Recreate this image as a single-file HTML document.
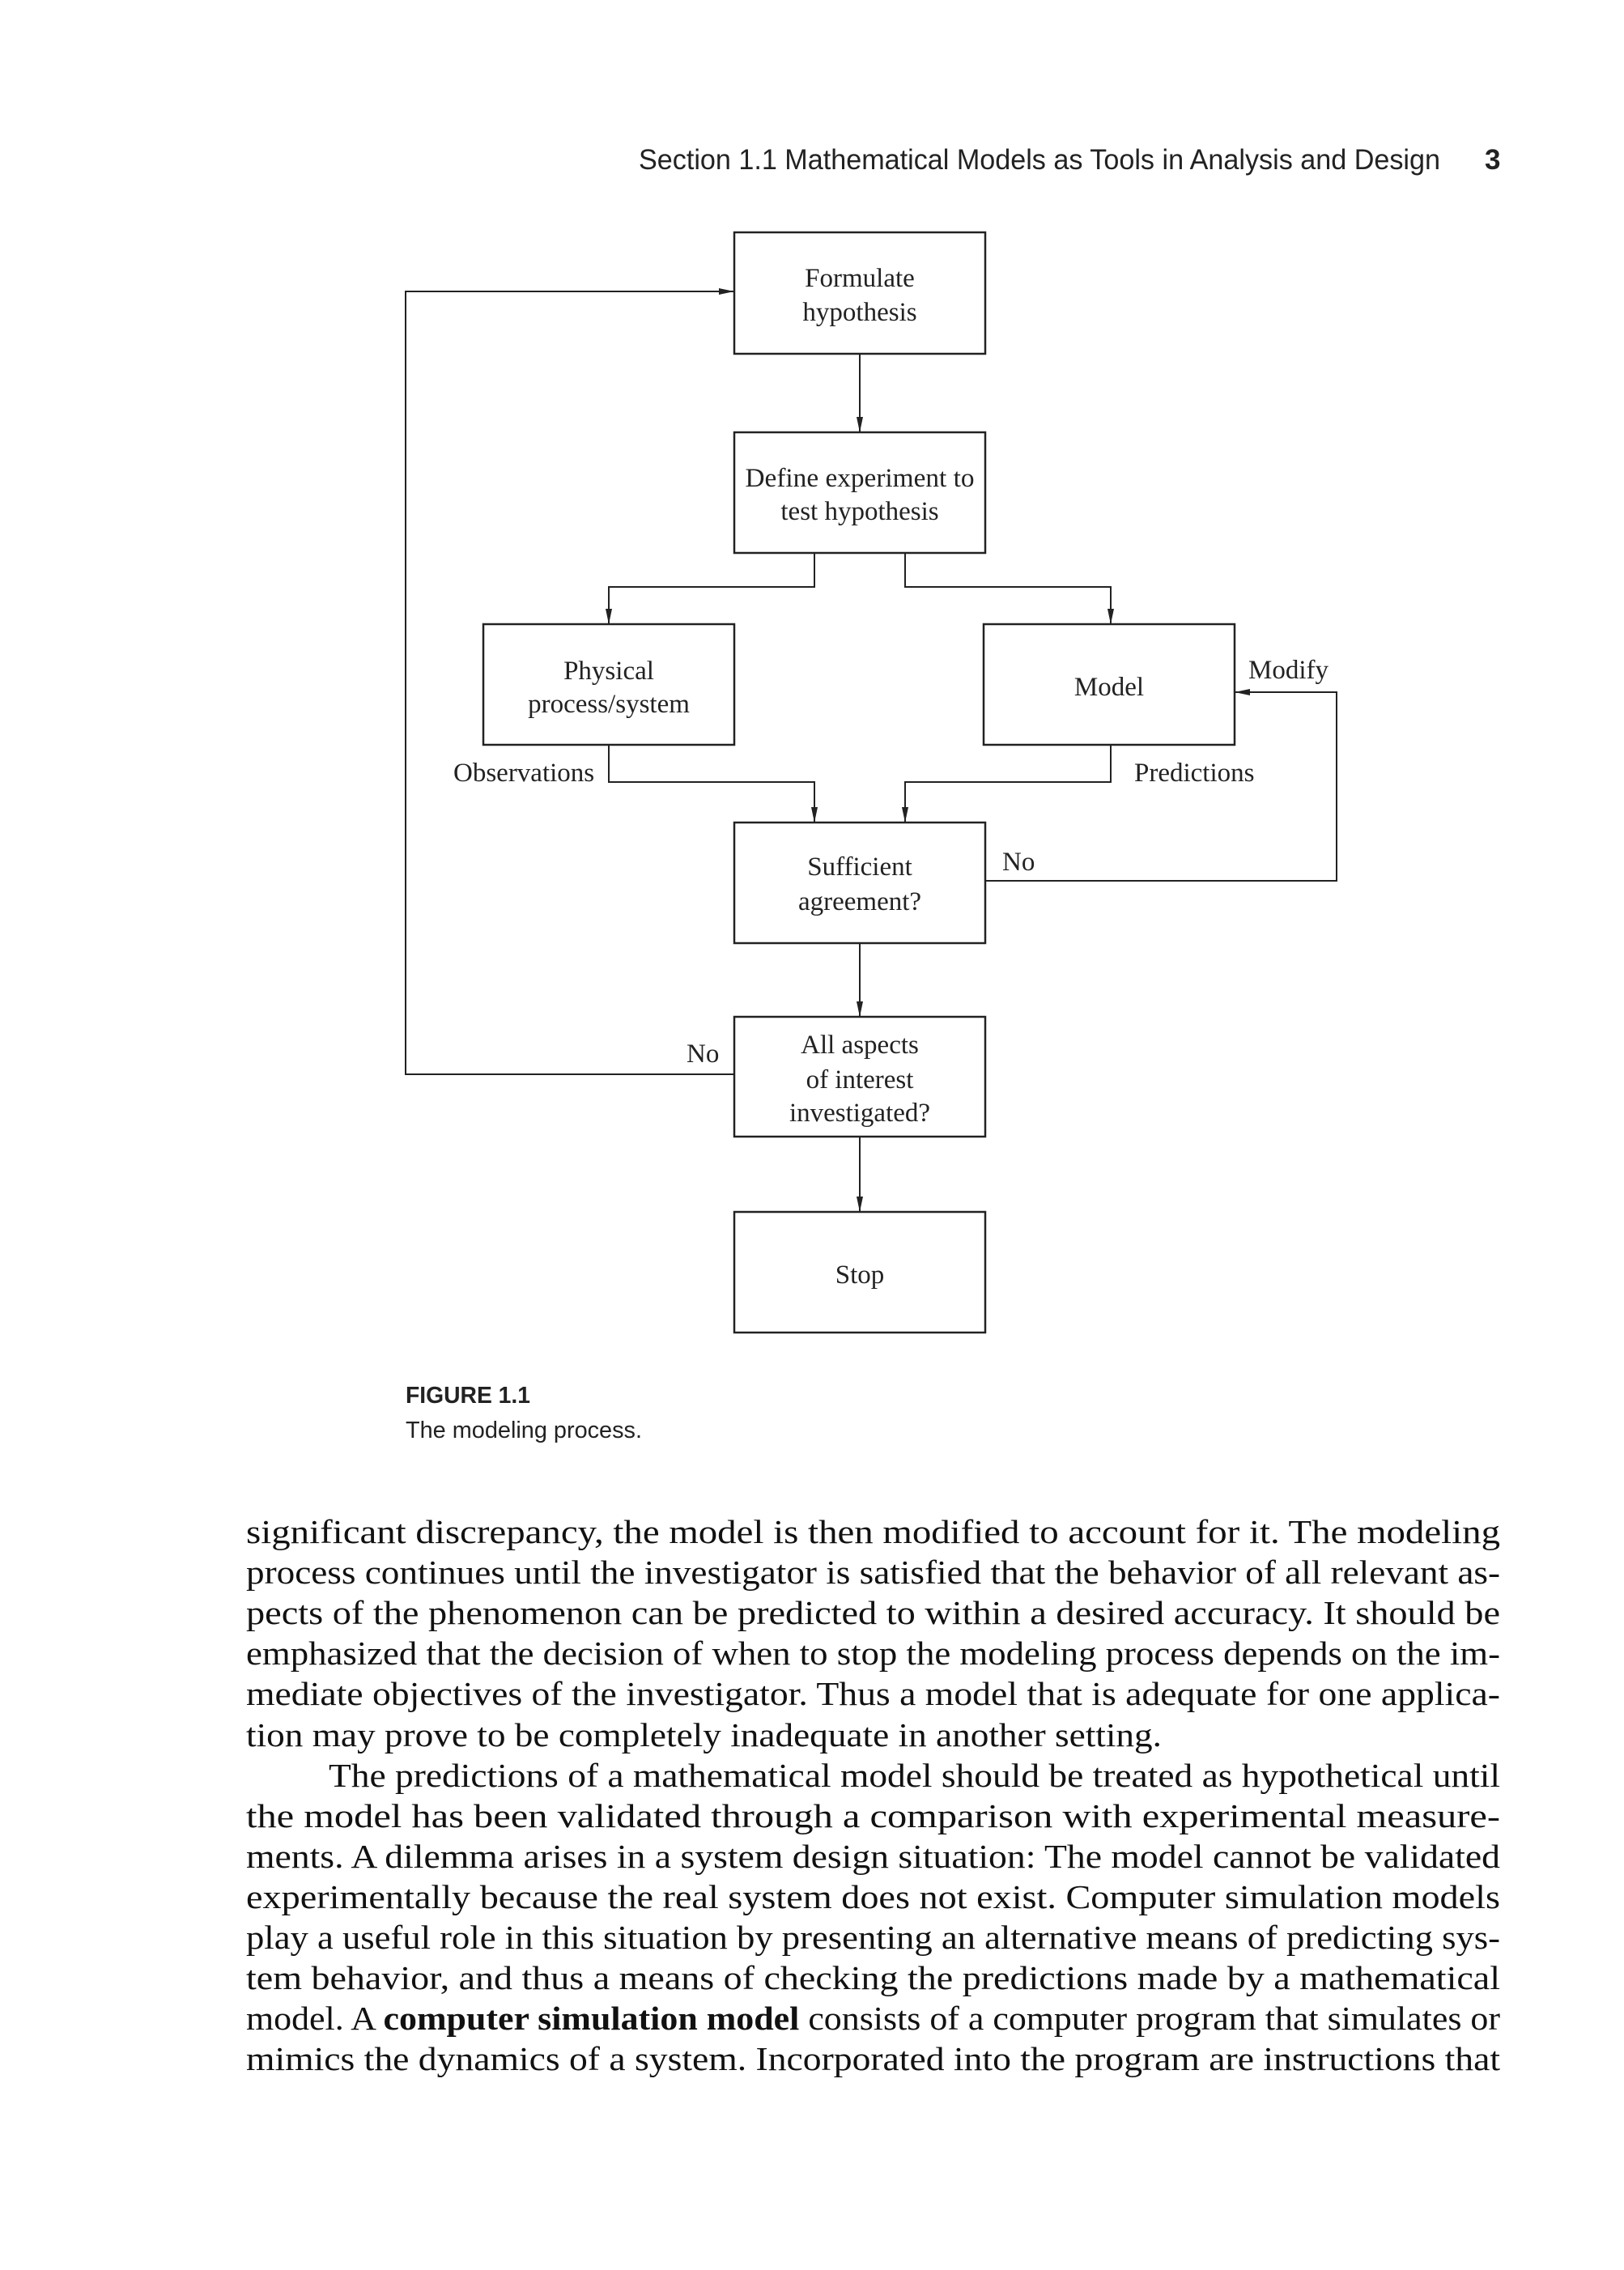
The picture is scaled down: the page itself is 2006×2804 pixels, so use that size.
<!DOCTYPE html>
<html><head><style>html,body{margin:0;padding:0;background:#fff}svg{display:block}</style></head>
<body>
<svg width="2006" height="2804" viewBox="0 0 2006 2804" xmlns="http://www.w3.org/2000/svg">
<defs>
<marker id="d" markerWidth="12" markerHeight="20" refX="6" refY="19" orient="0" markerUnits="userSpaceOnUse"><path d="M2,0 L6,19 L10,0 z" fill="#222"/></marker>
<marker id="l" markerWidth="20" markerHeight="12" refX="1" refY="6" orient="0" markerUnits="userSpaceOnUse"><path d="M20,2 L1,6 L20,10 z" fill="#222"/></marker>
<marker id="r" markerWidth="20" markerHeight="12" refX="19" refY="6" orient="0" markerUnits="userSpaceOnUse"><path d="M0,2 L19,6 L0,10 z" fill="#222"/></marker></defs>
<g font-family="Liberation Sans, sans-serif" fill="#222">
<text x="789" y="209" font-size="35" textLength="990" lengthAdjust="spacingAndGlyphs">Section 1.1    Mathematical Models as Tools in Analysis and Design</text>
<text x="1834" y="209" font-size="35" font-weight="bold">3</text>
<text x="501" y="1733" font-size="29" font-weight="bold" textLength="154" lengthAdjust="spacingAndGlyphs">FIGURE 1.1</text>
<text x="501" y="1776" font-size="29" textLength="292" lengthAdjust="spacingAndGlyphs">The modeling process.</text>
</g>
<g fill="none" stroke="#222" stroke-width="2.5">
<rect x="907" y="287" width="310" height="150"/>
<rect x="907" y="534" width="310" height="149"/>
<rect x="597" y="771" width="310" height="149"/>
<rect x="1215" y="771" width="310" height="149"/>
<rect x="907" y="1016" width="310" height="149"/>
<rect x="907" y="1256" width="310" height="148"/>
<rect x="907" y="1497" width="310" height="149"/>
</g>
<g fill="none" stroke="#222" stroke-width="2">
<line x1="1062" y1="437" x2="1062" y2="534" marker-end="url(#d)"/>
<polyline points="1006,683 1006,725 752,725 752,771" marker-end="url(#d)"/>
<polyline points="1118,683 1118,725 1372,725 1372,771" marker-end="url(#d)"/>
<polyline points="752,920 752,966 1006,966 1006,1016" marker-end="url(#d)"/>
<polyline points="1372,920 1372,966 1118,966 1118,1016" marker-end="url(#d)"/>
<polyline points="1217,1088 1651,1088 1651,855 1525,855" marker-end="url(#l)"/>
<line x1="1062" y1="1165" x2="1062" y2="1256" marker-end="url(#d)"/>
<line x1="1062" y1="1404" x2="1062" y2="1497" marker-end="url(#d)"/>
<polyline points="907,1327 501,1327 501,360 907,360" marker-end="url(#r)"/>
</g>
<g font-family="Liberation Serif, serif" font-size="33" fill="#222" text-anchor="middle">
<text x="1062" y="354">Formulate</text><text x="1062" y="396">hypothesis</text>
<text x="1062" y="601" textLength="283" lengthAdjust="spacingAndGlyphs">Define experiment to</text><text x="1062" y="642">test hypothesis</text>
<text x="752" y="839">Physical</text><text x="752" y="880">process/system</text>
<text x="1370" y="859">Model</text>
<text x="1062" y="1081">Sufficient</text><text x="1062" y="1124">agreement?</text>
<text x="1062" y="1301">All aspects</text><text x="1062" y="1344">of interest</text><text x="1062" y="1385">investigated?</text>
<text x="1062" y="1585">Stop</text>
</g>
<g font-family="Liberation Serif, serif" font-size="33" fill="#222">
<text x="1542" y="838">Modify</text>
<text x="560" y="965">Observations</text>
<text x="1401" y="965">Predictions</text>
<text x="1238" y="1075">No</text>
<text x="848" y="1312">No</text>
</g>
<g font-family="Liberation Serif, serif" font-size="41" fill="#111">
<text x="304" y="1906" textLength="1549" lengthAdjust="spacingAndGlyphs">significant discrepancy, the model is then modified to account for it. The modeling</text>
<text x="304" y="1956" textLength="1549" lengthAdjust="spacingAndGlyphs">process continues until the investigator is satisfied that the behavior of all relevant as-</text>
<text x="304" y="2006" textLength="1549" lengthAdjust="spacingAndGlyphs">pects of the phenomenon can be predicted to within a desired accuracy. It should be</text>
<text x="304" y="2056" textLength="1549" lengthAdjust="spacingAndGlyphs">emphasized that the decision of when to stop the modeling process depends on the im-</text>
<text x="304" y="2106" textLength="1549" lengthAdjust="spacingAndGlyphs">mediate objectives of the investigator. Thus a model that is adequate for one applica-</text>
<text x="304" y="2157" textLength="1131" lengthAdjust="spacingAndGlyphs">tion may prove to be completely inadequate in another setting.</text>
<text x="406" y="2207" textLength="1447" lengthAdjust="spacingAndGlyphs">The predictions of a mathematical model should be treated as hypothetical until</text>
<text x="304" y="2257" textLength="1549" lengthAdjust="spacingAndGlyphs">the model has been validated through a comparison with experimental measure-</text>
<text x="304" y="2307" textLength="1549" lengthAdjust="spacingAndGlyphs">ments. A dilemma arises in a system design situation: The model cannot be validated</text>
<text x="304" y="2357" textLength="1549" lengthAdjust="spacingAndGlyphs">experimentally because the real system does not exist. Computer simulation models</text>
<text x="304" y="2407" textLength="1549" lengthAdjust="spacingAndGlyphs">play a useful role in this situation by presenting an alternative means of predicting sys-</text>
<text x="304" y="2457" textLength="1549" lengthAdjust="spacingAndGlyphs">tem behavior, and thus a means of checking the predictions made by a mathematical</text>
<text x="304" y="2507" textLength="1549" lengthAdjust="spacingAndGlyphs">model. A <tspan font-weight="bold">computer simulation model</tspan> consists of a computer program that simulates or</text>
<text x="304" y="2557" textLength="1549" lengthAdjust="spacingAndGlyphs">mimics the dynamics of a system. Incorporated into the program are instructions that</text>
</g>
</svg>
</body></html>
